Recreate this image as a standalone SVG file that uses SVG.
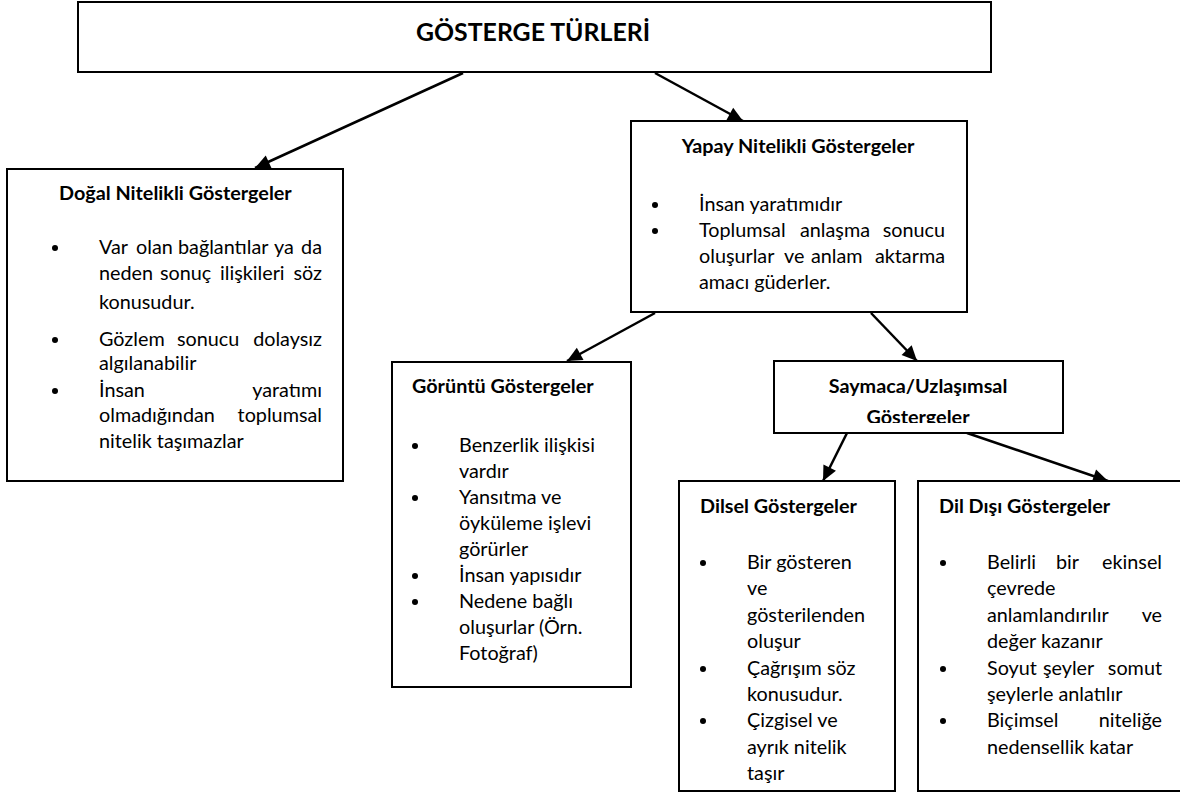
<svg xmlns="http://www.w3.org/2000/svg" width="1180" height="797" viewBox="0 0 1180 797">
  <style>
    .box { fill: #fff; stroke: #000; stroke-width: 2; }
    .ttl { font-family: Lato, "Liberation Sans", sans-serif; font-weight: bold; font-size: 24px; fill: #000; }
    .hd { font-family: Lato, "Liberation Sans", sans-serif; font-weight: bold; font-size: 19.8px; fill: #000; }
    .tx { font-family: Lato, "Liberation Sans", sans-serif; font-size: 19.8px; fill: #000; }
    .bul { fill: #000; }
    .con { stroke: #000; stroke-width: 2.5; fill: none; marker-end: url(#arrow); }
  </style>
  <defs>
    <marker id="arrow" markerUnits="userSpaceOnUse" markerWidth="16" markerHeight="14" refX="15" refY="7" orient="auto" overflow="visible">
      <path d="M0,0 L15,7 L0,14 z" fill="#000"/>
    </marker>
    <clipPath id="clipSaymaca">
      <rect x="774" y="361" width="289" height="62"/>
    </clipPath>
  </defs>

  <rect width="1180" height="797" fill="#fff"/>

  <!-- connectors -->
  <g id="connectors">
    <line class="con" x1="463" y1="73" x2="255" y2="168"/>
    <line class="con" x1="655" y1="73" x2="743" y2="121"/>
    <line class="con" x1="655" y1="313" x2="567" y2="361"/>
    <line class="con" x1="871" y1="313" x2="917" y2="361"/>
    <line class="con" x1="847" y1="433" x2="823" y2="481"/>
    <line class="con" x1="967" y1="433" x2="1108" y2="481"/>
  </g>

  <!-- root -->
  <g id="node-root">
    <rect class="box" x="78" y="2" width="913" height="70"/>
    <text class="ttl" x="416" y="41" textLength="234" lengthAdjust="spacingAndGlyphs">GÖSTERGE TÜRLERİ</text>
  </g>

  <!-- natural signs -->
  <g id="node-dogal">
    <rect class="box" x="7" y="169" width="336" height="312"/>
    <text class="hd" x="59" y="200">Doğal Nitelikli Göstergeler</text>
    <circle class="bul" cx="55" cy="248" r="3"/>
    <circle class="bul" cx="55" cy="340" r="3"/>
    <circle class="bul" cx="55" cy="391" r="3"/>
    <text class="tx" y="254"><tspan x="99">Var</tspan><tspan x="136">olan</tspan><tspan x="178">bağlantılar</tspan><tspan x="274">ya</tspan><tspan x="322" text-anchor="end">da</tspan></text>
    <text class="tx" y="280"><tspan x="99">neden</tspan><tspan x="160">sonuç</tspan><tspan x="220">ilişkileri</tspan><tspan x="322" text-anchor="end">söz</tspan></text>
    <text class="tx" x="99" y="309">konusudur.</text>
    <text class="tx" y="346"><tspan x="99">Gözlem</tspan><tspan x="177">sonucu</tspan><tspan x="322" text-anchor="end">dolaysız</tspan></text>
    <text class="tx" x="99" y="370">algılanabilir</text>
    <text class="tx" y="397"><tspan x="99">İnsan</tspan><tspan x="322" text-anchor="end">yaratımı</tspan></text>
    <text class="tx" y="422"><tspan x="99">olmadığından</tspan><tspan x="322" text-anchor="end">toplumsal</tspan></text>
    <text class="tx" x="99" y="448">nitelik taşımazlar</text>
  </g>

  <!-- artificial signs -->
  <g id="node-yapay">
    <rect class="box" x="631" y="121" width="336" height="191"/>
    <text class="hd" x="798" y="153" text-anchor="middle">Yapay Nitelikli Göstergeler</text>
    <circle class="bul" cx="655" cy="205" r="3"/>
    <circle class="bul" cx="655" cy="231" r="3"/>
    <text class="tx" x="699" y="211">İnsan yaratımıdır</text>
    <text class="tx" y="237"><tspan x="699">Toplumsal</tspan><tspan x="800">anlaşma</tspan><tspan x="945" text-anchor="end">sonucu</tspan></text>
    <text class="tx" y="263"><tspan x="699">oluşurlar</tspan><tspan x="784">ve</tspan><tspan x="811">anlam</tspan><tspan x="945" text-anchor="end">aktarma</tspan></text>
    <text class="tx" x="699" y="289">amacı güderler.</text>
  </g>

  <!-- iconic signs -->
  <g id="node-goruntu">
    <rect class="box" x="392" y="362" width="239" height="325"/>
    <text class="hd" x="412" y="393">Görüntü Göstergeler</text>
    <circle class="bul" cx="415" cy="446" r="3"/>
    <circle class="bul" cx="415" cy="498" r="3"/>
    <circle class="bul" cx="415" cy="576" r="3"/>
    <circle class="bul" cx="415" cy="602" r="3"/>
    <text class="tx" x="459" y="452">Benzerlik ilişkisi</text>
    <text class="tx" x="459" y="478">vardır</text>
    <text class="tx" x="459" y="504">Yansıtma ve</text>
    <text class="tx" x="459" y="530">öyküleme işlevi</text>
    <text class="tx" x="459" y="556">görürler</text>
    <text class="tx" x="459" y="582">İnsan yapısıdır</text>
    <text class="tx" x="459" y="608">Nedene bağlı</text>
    <text class="tx" x="459" y="634">oluşurlar (Örn.</text>
    <text class="tx" x="459" y="660">Fotoğraf)</text>
  </g>

  <!-- conventional signs -->
  <g id="node-saymaca">
    <rect class="box" x="774" y="361" width="289" height="72"/>
    <g clip-path="url(#clipSaymaca)">
      <text class="hd" x="918" y="393" text-anchor="middle">Saymaca/Uzlaşımsal</text>
      <text class="hd" x="918" y="424" text-anchor="middle">Göstergeler</text>
    </g>
  </g>

  <!-- linguistic signs -->
  <g id="node-dilsel">
    <rect class="box" x="679" y="481" width="216" height="310"/>
    <text class="hd" x="700" y="513">Dilsel Göstergeler</text>
    <circle class="bul" cx="703" cy="563" r="3"/>
    <circle class="bul" cx="703" cy="669" r="3"/>
    <circle class="bul" cx="703" cy="721" r="3"/>
    <text class="tx" x="747" y="569">Bir gösteren</text>
    <text class="tx" x="747" y="595">ve</text>
    <text class="tx" x="747" y="622">gösterilenden</text>
    <text class="tx" x="747" y="648">oluşur</text>
    <text class="tx" x="747" y="675">Çağrışım söz</text>
    <text class="tx" x="747" y="701">konusudur.</text>
    <text class="tx" x="747" y="727">Çizgisel ve</text>
    <text class="tx" x="747" y="754">ayrık nitelik</text>
    <text class="tx" x="747" y="780">taşır</text>
  </g>

  <!-- non-linguistic signs -->
  <g id="node-dildisi">
    <rect class="box" x="918" y="481" width="270" height="310"/>
    <text class="hd" x="939" y="513">Dil Dışı Göstergeler</text>
    <circle class="bul" cx="943" cy="563" r="3"/>
    <circle class="bul" cx="943" cy="669" r="3"/>
    <circle class="bul" cx="943" cy="721" r="3"/>
    <text class="tx" y="569"><tspan x="987">Belirli</tspan><tspan x="1056">bir</tspan><tspan x="1162" text-anchor="end">ekinsel</tspan></text>
    <text class="tx" x="987" y="595">çevrede</text>
    <text class="tx" y="622"><tspan x="987">anlamlandırılır</tspan><tspan x="1162" text-anchor="end">ve</tspan></text>
    <text class="tx" x="987" y="648">değer kazanır</text>
    <text class="tx" y="675"><tspan x="987">Soyut</tspan><tspan x="1043">şeyler</tspan><tspan x="1162" text-anchor="end">somut</tspan></text>
    <text class="tx" x="987" y="701">şeylerle anlatılır</text>
    <text class="tx" y="727"><tspan x="987">Biçimsel</tspan><tspan x="1162" text-anchor="end">niteliğe</tspan></text>
    <text class="tx" x="987" y="754">nedensellik katar</text>
  </g>
</svg>
